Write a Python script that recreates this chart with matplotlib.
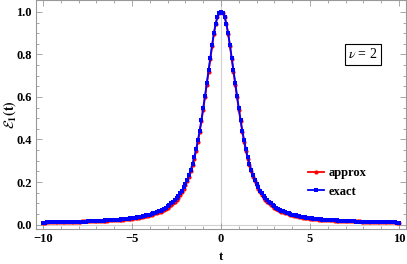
import numpy as np
import matplotlib.pyplot as plt

plt.rcParams['mathtext.fontset'] = 'stix'

# half profile, t = 0, 0.1, ..., 10 (curve is symmetric about t = 0)
t_half = np.round(np.arange(0, 10.01, 0.1), 1)
exact_half = [
    1.000, 0.995, 0.978, 0.945, 0.900, 0.845, 0.785, 0.725, 0.665, 0.605,
    0.548, 0.493, 0.442, 0.396, 0.354, 0.318, 0.286, 0.258, 0.233, 0.211,
    0.192, 0.175, 0.160, 0.147, 0.135, 0.124, 0.115, 0.106, 0.099, 0.092,
    0.086, 0.080, 0.075, 0.070, 0.066, 0.062, 0.059, 0.056, 0.053, 0.050,
    0.047, 0.045, 0.043, 0.041, 0.039, 0.037, 0.036, 0.034, 0.033, 0.031,
    0.030, 0.029, 0.028, 0.027, 0.026, 0.025, 0.024, 0.023, 0.023, 0.022,
    0.021, 0.021, 0.020, 0.020, 0.019, 0.019, 0.018, 0.018, 0.017, 0.017,
    0.016, 0.016, 0.016, 0.015, 0.015, 0.015, 0.014, 0.014, 0.014, 0.013,
    0.013, 0.013, 0.013, 0.012, 0.012, 0.012, 0.012, 0.012, 0.011, 0.011,
    0.011, 0.011, 0.011, 0.010, 0.010, 0.010, 0.010, 0.010, 0.010, 0.009,
    0.009,
]
approx_half = [
    1.000, 0.995, 0.977, 0.943, 0.897, 0.841, 0.780, 0.719, 0.658, 0.598,
    0.540, 0.485, 0.434, 0.388, 0.346, 0.310, 0.278, 0.250, 0.225, 0.203,
    0.184, 0.167, 0.152, 0.139, 0.127, 0.117, 0.108, 0.099, 0.092, 0.086,
    0.080, 0.075, 0.070, 0.065, 0.061, 0.058, 0.055, 0.052, 0.049, 0.046,
    0.044, 0.042, 0.040, 0.038, 0.036, 0.034, 0.033, 0.032, 0.030, 0.029,
    0.028, 0.027, 0.026, 0.025, 0.024, 0.023, 0.023, 0.022, 0.021, 0.021,
    0.020, 0.020, 0.019, 0.019, 0.018, 0.018, 0.018, 0.017, 0.017, 0.017,
    0.016, 0.016, 0.016, 0.016, 0.015, 0.015, 0.015, 0.015, 0.015, 0.014,
    0.014, 0.014, 0.014, 0.014, 0.014, 0.014, 0.013, 0.013, 0.013, 0.013,
    0.013, 0.013, 0.012, 0.012, 0.012, 0.011, 0.011, 0.010, 0.010, 0.009,
    0.008,
]

t = np.concatenate([-t_half[:0:-1], t_half])
exact = np.concatenate([exact_half[:0:-1], exact_half])
approx = np.concatenate([approx_half[:0:-1], approx_half])

fig = plt.figure(figsize=(4.07, 2.64), dpi=100)
ax = fig.add_axes([36/407, 35/264, 370/407, 229/264])

ax.axvline(0, color='#d0d0d0', lw=0.8, zorder=0)
ax.axhline(0, color='#d0d0d0', lw=0.8, zorder=0)

ax.plot(t, approx, '-o', color='red', lw=1.3, ms=3.0, mew=0, label='approx')
ax.plot(t, exact, '-s', color='blue', lw=1.3, ms=2.4, mew=0, label='exact')

ax.set_xlim(-10.4, 10.4)
ax.set_ylim(-0.021, 1.056)
ax.set_xticks([-10, -5, 0, 5, 10])
ax.set_xticks(np.arange(-10, 11, 1), minor=True)
ax.set_yticks([0, 0.2, 0.4, 0.6, 0.8, 1.0])
ax.set_yticks(np.arange(0, 1.05, 0.05), minor=True)
ax.set_xticklabels(['\u221210', '\u22125', '0', '5', '10'])
ax.set_yticklabels(['0.0', '0.2', '0.4', '0.6', '0.8', '1.0'])

for s in ax.spines.values():
    s.set_color('#999999')
    s.set_linewidth(0.8)
ax.tick_params(which='both', direction='in', top=True, right=True,
               color='#999999', width=0.6)
ax.tick_params(which='major', length=4)
ax.tick_params(which='minor', length=2)
ax.tick_params(axis='both', labelsize=9, pad=3)
for lab in ax.get_xticklabels() + ax.get_yticklabels():
    lab.set_fontfamily('Liberation Serif')
    lab.set_fontweight('bold')

ax.set_xlabel('t', fontfamily='Liberation Serif', fontweight='bold',
              fontsize=9, labelpad=4)
ax.set_ylabel(r'$\mathbf{\mathcal{E}_1(t)}$', fontsize=10)
ax.yaxis.set_label_coords(-0.05, 0.5)

ax.text(0.884, 0.764, r'$\nu$ = 2', transform=ax.transAxes,
        fontfamily='Liberation Serif', fontsize=10, ha='center', va='center',
        bbox=dict(boxstyle='square,pad=0.25', fc='white', ec='black', lw=0.8))

leg = ax.legend(loc='center left', bbox_to_anchor=(0.705, 0.203), frameon=False,
                prop={'family': 'Liberation Serif', 'weight': 'bold', 'size': 9},
                handlelength=1.3, handletextpad=0.35, labelspacing=0.5)

fig.savefig('out.png', dpi=100)
